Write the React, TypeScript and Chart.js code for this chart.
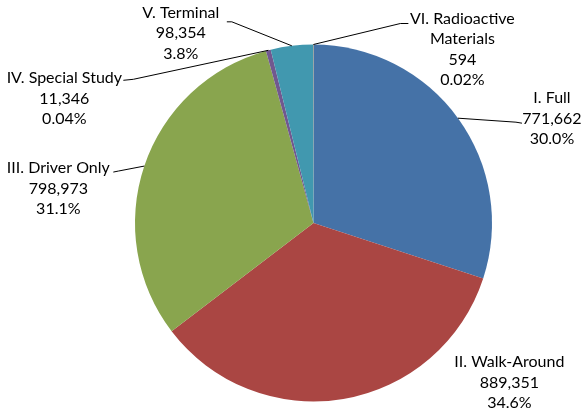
import React, { useEffect, useRef } from "react";
import { Chart, registerables } from "chart.js";

Chart.register(...registerables);

const categories = [
  "I. Full",
  "II. Walk-Around",
  "III. Driver Only",
  "IV. Special Study",
  "V. Terminal",
  "VI. Radioactive Materials",
];
const values = [771662, 889351, 798973, 11346, 98354, 594];
const percentLabels = ["30.0%", "34.6%", "31.1%", "0.04%", "3.8%", "0.02%"];
const labelLines = [
  ["I. Full"],
  ["II. Walk-Around"],
  ["III. Driver Only"],
  ["IV. Special Study"],
  ["V. Terminal"],
  ["VI. Radioactive", "Materials"],
];
const colors = ["#4572A7", "#AA4643", "#89A54E", "#71588F", "#4198AF", "#DB843D"];

// label placement relative to the slice's outer mid point (style only)
const labelOffsets: [number, number][] = [
  [94, -20],
  [166, -37],
  [-86, 2],
  [-204, 28],
  [-111, -33],
  [149, -26],
];
// leader: [elbow dx, elbow dy, end dx, end dy] relative to slice outer mid point, or null
const leaderOffsets: (number[] | null)[] = [
  [58, 4, 64, 5],
  null,
  [-26, 5, -31, 6],
  [-135, 29, -145, 30],
  [-60, -24, -65, -24],
  [87, -21, 95, -21],
];

const fmt = (n: number) => n.toLocaleString("en-US");

const labelPlugin = {
  id: "pieLabels",
  afterDraw(chart: any) {
    const ctx = chart.ctx;
    const meta = chart.getDatasetMeta(0);
    ctx.save();
    ctx.font = "16px Lato";
    ctx.fillStyle = "#000";
    ctx.textAlign = "center";
    ctx.textBaseline = "middle";
    ctx.strokeStyle = "#000";
    ctx.lineWidth = 1;
    meta.data.forEach((arc: any, i: number) => {
      const { x, y, startAngle, endAngle, outerRadius } = arc.getProps(
        ["x", "y", "startAngle", "endAngle", "outerRadius"],
        true
      );
      const mid = (startAngle + endAngle) / 2;
      const ax = x + outerRadius * Math.cos(mid);
      const ay = y + outerRadius * Math.sin(mid);
      const lo = leaderOffsets[i];
      if (lo) {
        ctx.beginPath();
        ctx.moveTo(ax, ay);
        ctx.lineTo(ax + lo[0], ay + lo[1]);
        ctx.lineTo(ax + lo[2], ay + lo[3]);
        ctx.stroke();
      }
      const lines = [...labelLines[i], fmt(values[i]), percentLabels[i]];
      const [dx, dy] = labelOffsets[i];
      lines.forEach((t, k) => {
        ctx.fillText(t, ax + dx, ay + dy + k * 20.5);
      });
    });
    ctx.restore();
  },
};

export default function App() {
  const ref = useRef<HTMLCanvasElement>(null);
  useEffect(() => {
    if (!ref.current) return;
    const chart = new Chart(ref.current, {
      type: "pie",
      data: {
        labels: categories,
        datasets: [
          {
            data: values,
            backgroundColor: colors,
            borderWidth: 0,
          },
        ],
      },
      options: {
        responsive: false,
        animation: false,
        layout: { padding: { top: 44.5, bottom: 9.5, left: 135, right: 90 } },
        plugins: {
          legend: { display: false },
          tooltip: { enabled: false },
        },
      },
      plugins: [labelPlugin],
    });
    return () => chart.destroy();
  }, []);
  return (
    <div style={{ position: "fixed", left: 0, top: 0, width: 582, height: 411, background: "#fff" }}>
      <canvas ref={ref} width={582} height={411} style={{ display: "block" }} />
    </div>
  );
}
